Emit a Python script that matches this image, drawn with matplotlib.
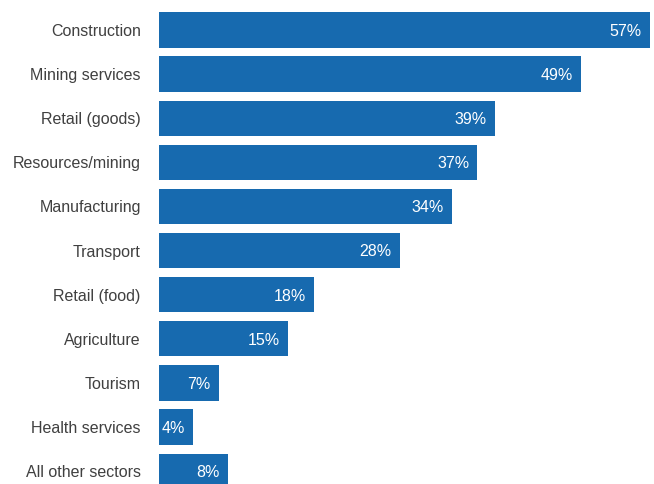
import matplotlib
matplotlib.use("Agg")
import matplotlib.pyplot as plt

sectors = ["Construction", "Mining services", "Retail (goods)", "Resources/mining",
           "Manufacturing", "Transport", "Retail (food)", "Agriculture",
           "Tourism", "Health services", "All other sectors"]
shares = [57, 49, 39, 37, 34, 28, 18, 15, 7, 4, 8]

plt.rcParams["font.family"] = ["Liberation Sans", "DejaVu Sans"]

fig = plt.figure(figsize=(6.54, 4.84), dpi=100)
ax = fig.add_axes([0.243, 0.0, 0.757, 1.0])

pos = list(range(len(sectors)))
bar_color = "#176AAF"
ax.barh(pos, shares, height=0.8, color=bar_color)

# value labels sit inside the right end of each bar
for y, v in zip(pos, shares):
    ax.annotate(f"{v}%", xy=(v, y), xytext=(-6, -1), textcoords="offset points",
                ha="right", va="center", color="white", fontsize=11.5)

ax.set_yticks(pos)
ax.set_yticklabels(sectors, fontsize=11.5, color="#404040")
ax.tick_params(axis="y", length=0, pad=13)
ax.set_xticks([])
ax.set_xlim(0, 57.5)
ax.set_ylim(10.29, -0.68)
for s in ax.spines.values():
    s.set_visible(False)

fig.savefig("out.png", dpi=100)
